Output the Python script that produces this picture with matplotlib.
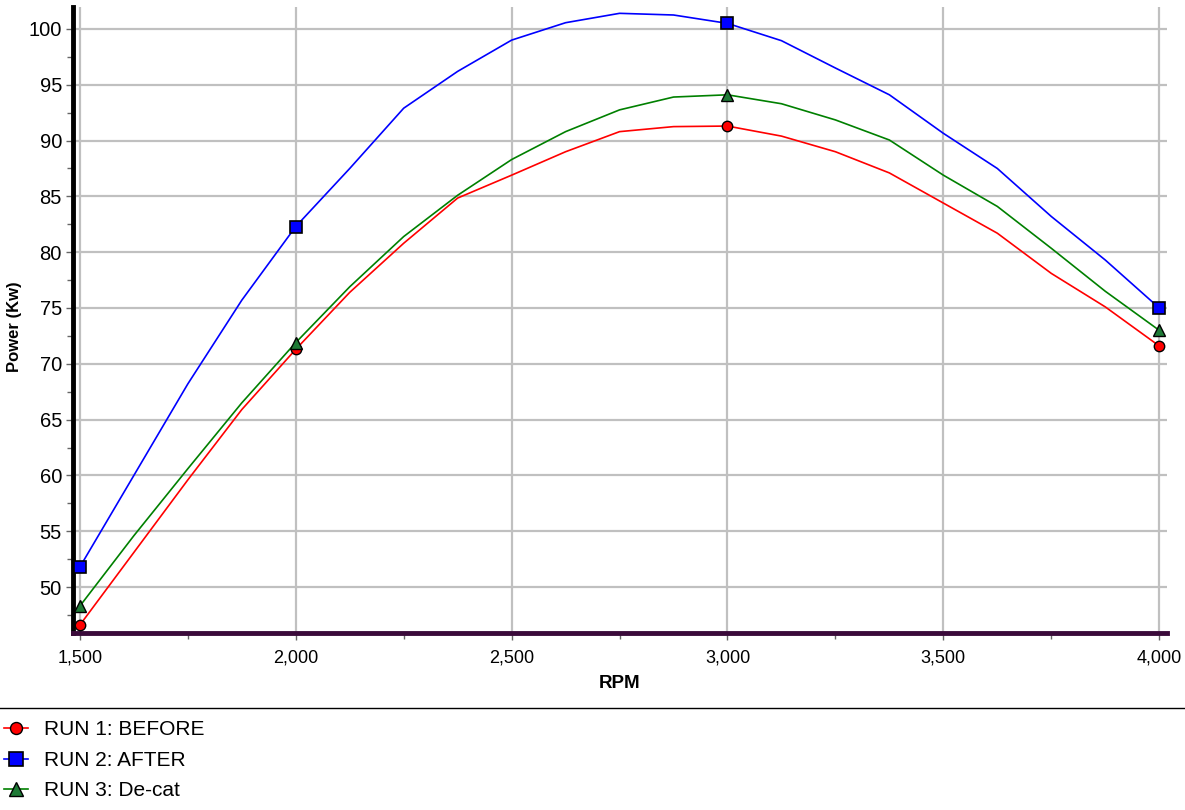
import matplotlib.pyplot as plt
from matplotlib.lines import Line2D
from matplotlib.ticker import MultipleLocator, FuncFormatter

rpm = [1500, 1625, 1750, 1875, 2000, 2125, 2250, 2375, 2500, 2625, 2750,
       2875, 3000, 3125, 3250, 3375, 3500, 3625, 3750, 3875, 4000]

run1_before = [46.6, 53.1, 59.6, 65.9, 71.3, 76.4, 80.8, 84.85, 86.9, 89.0, 90.8,
               91.25, 91.3, 90.4, 89.0, 87.1, 84.4, 81.7, 78.1, 75.1, 71.6]
run2_after = [51.8, 60.0, 68.2, 75.7, 82.3, 87.5, 92.9, 96.2, 99.0, 100.56, 101.4,
              101.25, 100.5, 98.95, 96.5, 94.1, 90.65, 87.5, 83.2, 79.3, 75.0]
run3_decat = [48.3, 54.6, 60.6, 66.5, 71.9, 76.9, 81.4, 85.1, 88.3, 90.8, 92.75,
              93.9, 94.1, 93.3, 91.85, 90.05, 86.9, 84.1, 80.35, 76.5, 73.0]

# indices of the measured points (1500, 2000, 3000, 4000)
measured = [0, 4, 12, 20]

labels = ['RUN 1: BEFORE', 'RUN 2: AFTER', 'RUN 3: De-cat']

plt.rcParams['font.family'] = ['Liberation Sans', 'DejaVu Sans']

fig = plt.figure(figsize=(11.85, 8.1), dpi=100)
ax = fig.add_axes([0.0616, 0.2185, 0.9232, 0.7729])

ax.plot(rpm, run1_before, color='#ff0000', lw=1.2, marker='o', markevery=measured,
        markersize=7.5, markerfacecolor='#ff0000', markeredgecolor='black',
        markeredgewidth=1.0, label=labels[0], zorder=3)
ax.plot(rpm, run2_after, color='#0000ff', lw=1.2, marker='s', markevery=measured,
        markersize=8.5, markerfacecolor='#0000ff', markeredgecolor='black',
        markeredgewidth=1.2, label=labels[1], zorder=3)
ax.plot(rpm, run3_decat, color='#008000', lw=1.2, marker='^', markevery=measured,
        markersize=9, markerfacecolor='#1e7a36', markeredgecolor='black',
        markeredgewidth=1.0, label=labels[2], zorder=3)

ax.set_xlim(1484, 4018)
ax.set_ylim(45.88, 101.97)

ax.xaxis.set_major_locator(MultipleLocator(500))
ax.xaxis.set_minor_locator(MultipleLocator(250))
ax.yaxis.set_major_locator(MultipleLocator(5))
ax.yaxis.set_minor_locator(MultipleLocator(2.5))
ax.xaxis.set_major_formatter(FuncFormatter(lambda v, p: f'{int(v):,}'))

ax.grid(True, which='major', color='#c0c0c0', lw=1.6)
ax.set_axisbelow(True)

for side in ['top', 'right']:
    ax.spines[side].set_visible(False)
ax.spines['left'].set_linewidth(3.5)
ax.spines['left'].set_color('black')
ax.spines['bottom'].set_linewidth(3.5)
ax.spines['bottom'].set_color('#3a0a3a')

ax.tick_params(axis='x', which='major', length=5, width=1, color='#666666',
               labelsize=13, pad=7)
ax.tick_params(axis='y', which='major', length=5, width=1, color='#666666',
               labelsize=14.5, pad=3)
ax.tick_params(axis='both', which='minor', length=4, width=1, color='#666666')

ax.set_xlabel('RPM', fontsize=13.5, fontweight='bold', labelpad=6)
ax.set_ylabel('Power (Kw)', fontsize=12, fontweight='bold')
ax.yaxis.set_label_coords(-0.047, 0.49)

# separator line above the legend
fig.add_artist(Line2D([0, 1], [1 - 708 / 810, 1 - 708 / 810],
                      transform=fig.transFigure, color='black', lw=1))

fig.legend(loc='upper left', bbox_to_anchor=(0.0, 1 - 716 / 810), frameon=False,
           fontsize=15, numpoints=1, handlelength=1.15, handletextpad=0.75,
           labelspacing=0.56, borderaxespad=0.0, borderpad=0.2, markerscale=1.15)

plt.savefig('out.png', dpi=100)
